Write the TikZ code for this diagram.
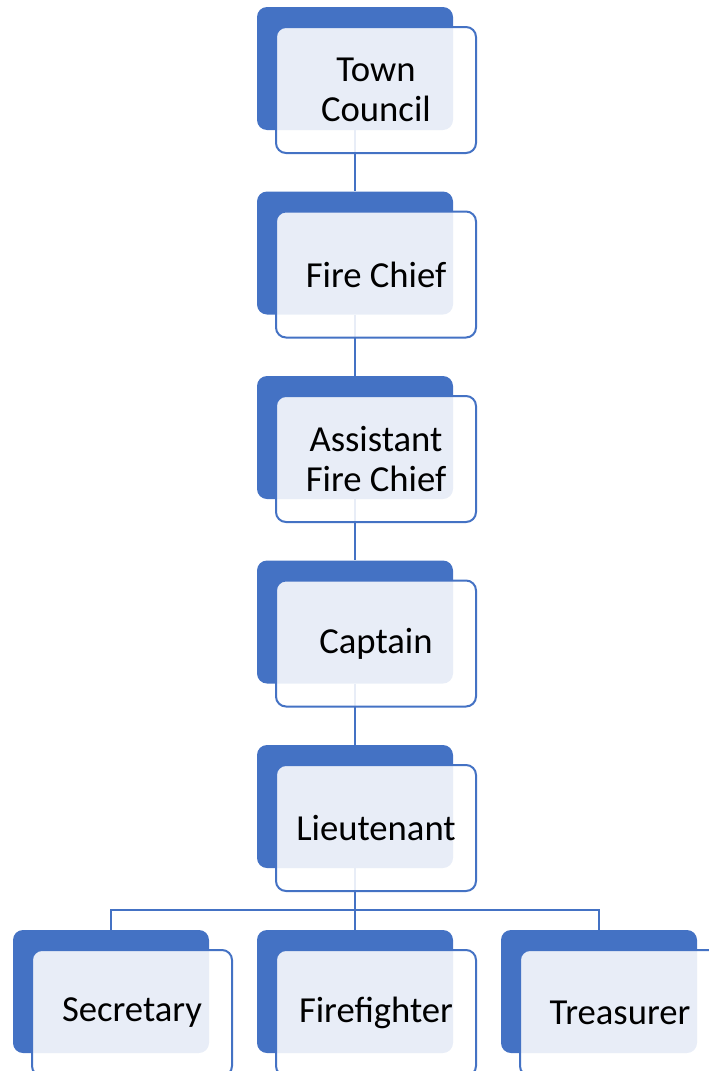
\documentclass[tikz,border=0pt]{standalone}
\usepackage{fontspec}
\setmainfont{Carlito}
\usetikzlibrary{positioning}
\definecolor{chartblue}{HTML}{4472C4}
\tikzstyle{backbox} = [rectangle, fill=chartblue, rounded corners=7.5pt, minimum width=147pt, minimum height=92.25pt, inner sep=0pt]
\tikzstyle{frontbox} = [rectangle, draw=chartblue, line width=1.5pt, fill=white, fill opacity=0.88, text opacity=1, rounded corners=7.5pt, minimum width=150pt, minimum height=94.5pt, inner sep=0pt, align=center, font=\fontsize{27.5}{30}\selectfont]
\tikzstyle{link} = [draw=chartblue, line width=1.6pt]

\begin{document}
\begin{tikzpicture}[x=0.75pt, y=-0.75pt]
        \useasboundingbox (0,0) rectangle (709,1071);

        % Back plates
        \node[backbox] (council-back) at (355, 68.5) {};
        \node[backbox] (chief-back) at (355, 253) {};
        \node[backbox] (assistant-back) at (355, 437.5) {};
        \node[backbox] (captain-back) at (355, 622) {};
        \node[backbox] (lieutenant-back) at (355, 806.5) {};
        \node[backbox] (secretary-back) at (111, 991.5) {};
        \node[backbox] (firefighter-back) at (355, 991.5) {};
        \node[backbox] (treasurer-back) at (599, 991.5) {};

        % Connectors
        \draw[link] (council-back.south) -- (chief-back.north);
        \draw[link] (chief-back.south) -- (assistant-back.north);
        \draw[link] (assistant-back.south) -- (captain-back.north);
        \draw[link] (captain-back.south) -- (lieutenant-back.north);
        \coordinate (bus) at (355, 910);
        \draw[link] (lieutenant-back.south) -- (bus);
        \draw[link] (bus) -| (secretary-back.north);
        \draw[link] (bus) -- (firefighter-back.north);
        \draw[link] (bus) -| (treasurer-back.north);

        % Text boxes
        \node[frontbox] (council) at (376, 90) {Town\\Council};
        \node[frontbox] (chief) at (376, 274.5) {Fire Chief};
        \node[frontbox] (assistant) at (376, 459) {Assistant\\Fire Chief};
        \node[frontbox] (captain) at (376, 643.5) {Captain};
        \node[frontbox] (lieutenant) at (376, 828) {Lieutenant};
        \node[frontbox] (secretary) at (132, 1013) {Secretary};
        \node[frontbox] (firefighter) at (376, 1013) {Firefighter};
        \node[frontbox] (treasurer) at (620, 1013) {Treasurer};

    \end{tikzpicture}
\end{document}
